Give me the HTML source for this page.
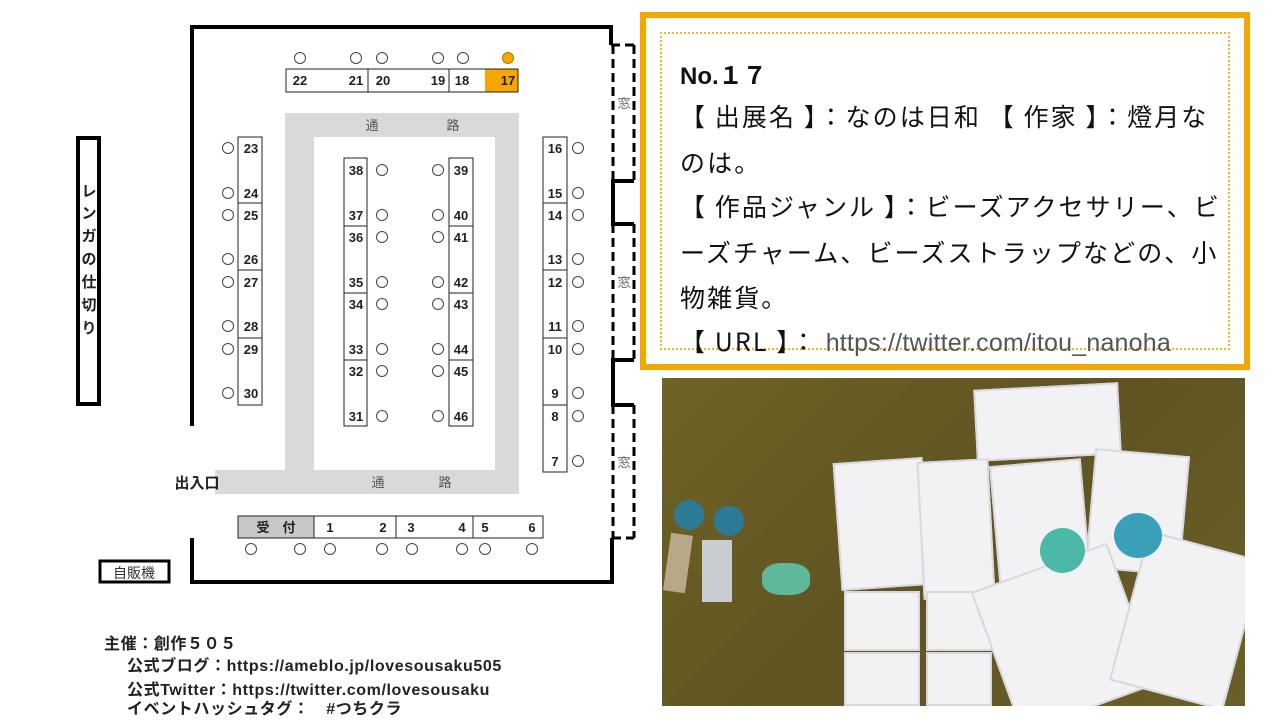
<!DOCTYPE html>
<html><head><meta charset="utf-8"><style>
body{margin:0;width:1280px;height:720px;background:#fff;position:relative;overflow:hidden;font-family:"Liberation Sans","Noto Sans CJK JP",sans-serif;}
.card{position:absolute;left:640px;top:12px;width:598px;height:346px;border:6px solid #f5a700;background:#fff;}
.inner{position:absolute;left:14px;top:14px;right:14px;bottom:14px;border:2px dotted #f7b32b;}
.t{position:absolute;left:34px;font-size:25px;color:#111;white-space:nowrap;font-family:"Noto Sans CJK JP",sans-serif;letter-spacing:2.1px}
.photo{position:absolute;left:662px;top:378px;width:583px;height:328px;background:linear-gradient(135deg,#6f6326,#5f5422 50%,#6b5f28);overflow:hidden}
.pk{position:absolute;background:#f2f2f4;border:2px solid #d8d8de;box-sizing:border-box}
.txt{position:absolute;left:104px;font-size:16px;letter-spacing:0.6px;font-weight:bold;color:#222;white-space:nowrap}
</style></head><body>
<svg width="640" height="720" style="position:absolute;left:0;top:0" font-family="Liberation Sans, Noto Sans CJK JP, sans-serif">
<g fill="#d9d9d9"><rect x="285" y="113" width="234" height="381"/><rect x="215" y="470" width="304" height="24"/></g>
<rect x="314" y="137" width="181" height="333" fill="#fff"/>
<g font-size="13" fill="#555" text-anchor="middle"><text x="372" y="130">通</text><text x="453" y="130">路</text><text x="378" y="487">通</text><text x="445" y="487">路</text></g>
<g stroke="#000" stroke-width="4" fill="none">
<polyline points="192,426 192,27 611,27 611,45"/>
<polyline points="192,538 192,582 612,582 612,538"/>
<polyline points="634,181 613,181 613,224 634,224"/>
<polyline points="634,360 613,360 613,405 634,405"/>
<rect x="78" y="138" width="21" height="266"/>
<rect x="100" y="561" width="69" height="21" stroke-width="3"/>
</g>
<g stroke="#000" stroke-width="3" fill="none" stroke-dasharray="9,5">
<line x1="611" y1="45" x2="634" y2="45"/><line x1="613" y1="45" x2="613" y2="181"/><line x1="634" y1="45" x2="634" y2="181"/>
<line x1="613" y1="224" x2="613" y2="360"/><line x1="634" y1="224" x2="634" y2="360"/>
<line x1="613" y1="405" x2="613" y2="538"/><line x1="634" y1="405" x2="634" y2="538"/><line x1="612" y1="538" x2="634" y2="538"/>
</g>
<g font-size="13" fill="#666" text-anchor="middle"><text x="624" y="108">窓</text><text x="624" y="287">窓</text><text x="624" y="467">窓</text></g>
<g font-size="15" font-weight="bold" fill="#222" text-anchor="middle">
<text x="89" y="196">レ</text><text x="89" y="218">ン</text><text x="89" y="241">ガ</text><text x="89" y="264">の</text><text x="89" y="287">仕</text><text x="89" y="310">切</text><text x="89" y="333">り</text>
<text x="197" y="488">出入口</text></g>
<text x="134" y="578" font-size="14" fill="#333" text-anchor="middle">自販機</text>
<rect x="485" y="69" width="33" height="23" fill="#f5a700"/>
<rect x="238" y="516" width="76" height="22" fill="#c8c8c8"/>
<g stroke="#222" stroke-width="1" fill="none">
<rect x="286" y="69" width="232" height="23"/><line x1="368" y1="69" x2="368" y2="92"/><line x1="449" y1="69" x2="449" y2="92"/>
<rect x="238" y="516" width="305" height="22"/><line x1="314" y1="516" x2="314" y2="538"/><line x1="396" y1="516" x2="396" y2="538"/><line x1="473" y1="516" x2="473" y2="538"/>
<rect x="238" y="137" width="24" height="268"/><line x1="238" y1="203" x2="262" y2="203"/><line x1="238" y1="270" x2="262" y2="270"/><line x1="238" y1="338" x2="262" y2="338"/>
<rect x="543" y="137" width="24" height="335"/><line x1="543" y1="203" x2="567" y2="203"/><line x1="543" y1="270" x2="567" y2="270"/><line x1="543" y1="338" x2="567" y2="338"/><line x1="543" y1="405" x2="567" y2="405"/>
<rect x="344" y="158" width="23" height="268"/><line x1="344" y1="226" x2="367" y2="226"/><line x1="344" y1="293" x2="367" y2="293"/><line x1="344" y1="360" x2="367" y2="360"/>
<rect x="449" y="158" width="24" height="268"/><line x1="449" y1="226" x2="473" y2="226"/><line x1="449" y1="293" x2="473" y2="293"/><line x1="449" y1="360" x2="473" y2="360"/>
</g>
<g font-size="13" font-weight="bold" fill="#222" text-anchor="middle">
<text x="300" y="85">22</text><text x="356" y="85">21</text><text x="383" y="85">20</text><text x="438" y="85">19</text><text x="462" y="85">18</text><text x="508" y="85">17</text>
<text x="276" y="532">受　付</text><text x="330" y="532">1</text><text x="383" y="532">2</text><text x="411" y="532">3</text><text x="462" y="532">4</text><text x="485" y="532">5</text><text x="532" y="532">6</text>
<text x="251" y="153">23</text><text x="251" y="198">24</text><text x="251" y="220">25</text><text x="251" y="264">26</text><text x="251" y="287">27</text><text x="251" y="331">28</text><text x="251" y="354">29</text><text x="251" y="398">30</text>
<text x="555" y="153">16</text><text x="555" y="198">15</text><text x="555" y="220">14</text><text x="555" y="264">13</text><text x="555" y="287">12</text><text x="555" y="331">11</text><text x="555" y="354">10</text><text x="555" y="398">9</text><text x="555" y="421">8</text><text x="555" y="466">7</text>
<text x="356" y="175">38</text><text x="356" y="220">37</text><text x="356" y="242">36</text><text x="356" y="287">35</text><text x="356" y="309">34</text><text x="356" y="354">33</text><text x="356" y="376">32</text><text x="356" y="421">31</text>
<text x="461" y="175">39</text><text x="461" y="220">40</text><text x="461" y="242">41</text><text x="461" y="287">42</text><text x="461" y="309">43</text><text x="461" y="354">44</text><text x="461" y="376">45</text><text x="461" y="421">46</text>
</g>
<g stroke="#444" stroke-width="1" fill="#fff">
<circle cx="300" cy="58" r="5.5"/><circle cx="356" cy="58" r="5.5"/><circle cx="382" cy="58" r="5.5"/><circle cx="438" cy="58" r="5.5"/><circle cx="463" cy="58" r="5.5"/>
<circle cx="508" cy="58" r="5.5" fill="#f5a700" stroke="#b07800"/>
<circle cx="251" cy="549" r="5.5"/><circle cx="300" cy="549" r="5.5"/><circle cx="330" cy="549" r="5.5"/><circle cx="382" cy="549" r="5.5"/><circle cx="412" cy="549" r="5.5"/><circle cx="462" cy="549" r="5.5"/><circle cx="485" cy="549" r="5.5"/><circle cx="532" cy="549" r="5.5"/>
<circle cx="228" cy="148" r="5.5"/><circle cx="228" cy="193" r="5.5"/><circle cx="228" cy="215" r="5.5"/><circle cx="228" cy="259" r="5.5"/><circle cx="228" cy="282" r="5.5"/><circle cx="228" cy="326" r="5.5"/><circle cx="228" cy="349" r="5.5"/><circle cx="228" cy="393" r="5.5"/>
<circle cx="578" cy="148" r="5.5"/><circle cx="578" cy="193" r="5.5"/><circle cx="578" cy="215" r="5.5"/><circle cx="578" cy="259" r="5.5"/><circle cx="578" cy="282" r="5.5"/><circle cx="578" cy="326" r="5.5"/><circle cx="578" cy="349" r="5.5"/><circle cx="578" cy="393" r="5.5"/><circle cx="578" cy="416" r="5.5"/><circle cx="578" cy="461" r="5.5"/>
<circle cx="382" cy="170" r="5.5"/><circle cx="382" cy="215" r="5.5"/><circle cx="382" cy="237" r="5.5"/><circle cx="382" cy="282" r="5.5"/><circle cx="382" cy="304" r="5.5"/><circle cx="382" cy="349" r="5.5"/><circle cx="382" cy="371" r="5.5"/><circle cx="382" cy="416" r="5.5"/>
<circle cx="438" cy="170" r="5.5"/><circle cx="438" cy="215" r="5.5"/><circle cx="438" cy="237" r="5.5"/><circle cx="438" cy="282" r="5.5"/><circle cx="438" cy="304" r="5.5"/><circle cx="438" cy="349" r="5.5"/><circle cx="438" cy="371" r="5.5"/><circle cx="438" cy="416" r="5.5"/>
</g>
</svg>
<div class="txt" style="top:630px">主催：創作５０５</div>
<div class="txt" style="top:652px;left:127px">公式ブログ：https://ameblo.jp/lovesousaku505</div>
<div class="txt" style="top:676px;left:127px">公式Twitter：https://twitter.com/lovesousaku</div>
<div class="txt" style="top:695px;left:127px">イベントハッシュタグ：　#つちクラ</div>

<div class="card"><div class="inner"></div>
<div class="t" style="top:38px;font-weight:bold;font-family:'Liberation Sans','Noto Sans CJK JP',sans-serif;font-size:24px;letter-spacing:0">No.１７</div>
<div class="t" style="top:80px">【 出展名 】：なのは日和 【 作家 】：燈月な</div>
<div class="t" style="top:126px">のは。</div>
<div class="t" style="top:170px">【 作品ジャンル 】：ビーズアクセサリー、ビ</div>
<div class="t" style="top:216px">ーズチャーム、ビーズストラップなどの、小</div>
<div class="t" style="top:261px">物雑貨。</div>
<div class="t" style="top:305px">【 URL 】： <span style="color:#555;font-family:'Liberation Sans',sans-serif;letter-spacing:0.2px">https://twitter.com/itou_nanoha</span></div>
</div>

<div class="photo">
<div class="pk" style="left:313px;top:8px;width:145px;height:72px;transform:rotate(-3deg)"></div>
<div class="pk" style="left:175px;top:82px;width:90px;height:128px;transform:rotate(-4deg)"></div>
<div class="pk" style="left:258px;top:82px;width:72px;height:138px;transform:rotate(-3deg)"></div>
<div class="pk" style="left:333px;top:84px;width:92px;height:140px;transform:rotate(-5deg)"></div>
<div class="pk" style="left:428px;top:74px;width:95px;height:120px;transform:rotate(5deg)"></div>
<div class="pk" style="left:182px;top:213px;width:76px;height:60px"></div>
<div class="pk" style="left:264px;top:213px;width:66px;height:60px"></div>
<div class="pk" style="left:182px;top:274px;width:76px;height:54px"></div>
<div class="pk" style="left:264px;top:274px;width:66px;height:54px"></div>
<div class="pk" style="left:330px;top:185px;width:145px;height:150px;transform:rotate(-20deg)"></div>
<div class="pk" style="left:465px;top:165px;width:118px;height:155px;transform:rotate(15deg)"></div>
<div style="position:absolute;left:12px;top:122px;width:30px;height:30px;border-radius:50%;background:#2d7a96"></div>
<div style="position:absolute;left:52px;top:128px;width:30px;height:30px;border-radius:50%;background:#2d7a96"></div>
<div style="position:absolute;left:5px;top:156px;width:22px;height:58px;background:#b8a888;transform:rotate(8deg)"></div>
<div style="position:absolute;left:40px;top:162px;width:30px;height:62px;background:#c8cdd2"></div>
<div style="position:absolute;left:100px;top:185px;width:48px;height:32px;border-radius:40%;background:#5fb89a"></div>
<div style="position:absolute;left:378px;top:150px;width:45px;height:45px;border-radius:50%;background:#4bb8a8"></div>
<div style="position:absolute;left:452px;top:135px;width:48px;height:45px;border-radius:50%;background:#3a9fb8"></div>
</div>
</body></html>
